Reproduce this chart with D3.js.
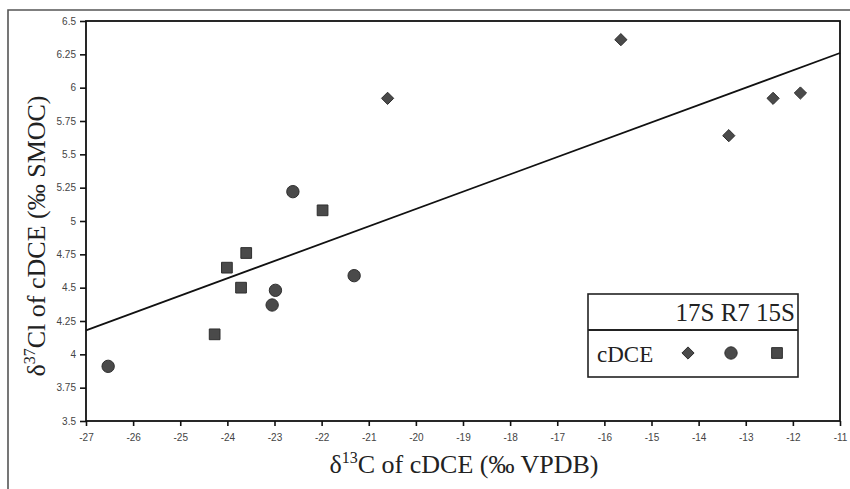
<!DOCTYPE html>
<html>
<head>
<meta charset="utf-8">
<script src="https://cdn.jsdelivr.net/npm/d3@7"></script>
<style>
  html, body { margin: 0; padding: 0; background: #fff; }
  svg { display: block; }
</style>
</head>
<body>
<svg id="chart" width="850" height="489"></svg>
<script>
// ---- data ----
const xTicks = [-27,-26,-25,-24,-23,-22,-21,-20,-19,-18,-17,-16,-15,-14,-13,-12,-11];
const yTicks = [3.5,3.75,4,4.25,4.5,4.75,5,5.25,5.5,5.75,6,6.25,6.5];
const yTickLabels = ["3.5","3.75","4","4.25","4.5","4.75","5","5.25","5.5","5.75","6","6.25","6.5"];

const s17S_x = [-20.6, -15.65, -13.36, -12.42, -11.84];
const s17S_y = [5.92, 6.36, 5.64, 5.92, 5.96];

const sR7_x = [-26.53, -23.05, -22.98, -22.61, -21.31];
const sR7_y = [3.91, 4.37, 4.48, 5.22, 4.59];

const s15S_x = [-24.27, -24.01, -23.71, -23.60, -21.98];
const s15S_y = [4.15, 4.65, 4.50, 4.76, 5.08];

const fitX = [-27, -11];
const fitY = [4.18, 6.26];

const legendNames = ["17S", "R7", "15S"];
const legendRowLabel = "cDCE";

(function () {
// ---- layout ----
const svg = d3.select("#chart");
const pLeft = 86, pRight = 840, pTop = 21, pBottom = 421;
const x = d3.scaleLinear().domain([-27, -11]).range([pLeft, pRight]);
const y = d3.scaleLinear().domain([3.5, 6.5]).range([pBottom, pTop]);

const markFill = "#4a4a4a", markStroke = "#2e2e2e";

// outer frame (left + top only visible)
svg.append("path")
  .attr("d", `M8,489 L8,10 L850,10`)
  .attr("fill", "none").attr("stroke", "#555").attr("stroke-width", 1.6);

// plot box
svg.append("rect")
  .attr("x", pLeft).attr("y", pTop)
  .attr("width", pRight - pLeft).attr("height", pBottom - pTop)
  .attr("fill", "none").attr("stroke", "#111").attr("stroke-width", 1.8);

// axes
const xAxis = d3.axisBottom(x).tickValues(xTicks).tickSize(5).tickPadding(8)
  .tickFormat(d => String(d));
const gx = svg.append("g").attr("transform", `translate(0,${pBottom})`).call(xAxis);
gx.select(".domain").remove();
gx.selectAll("line").attr("stroke", "#111").attr("stroke-width", 1.6);
gx.selectAll("text").attr("font-family", "Liberation Sans, Arial, sans-serif")
  .attr("font-size", 10).attr("fill", "#444");

const yAxis = d3.axisLeft(y).tickValues(yTicks).tickSize(6).tickPadding(4)
  .tickFormat((d, i) => yTickLabels[i]);
const gy = svg.append("g").attr("transform", `translate(${pLeft},0)`).call(yAxis);
gy.select(".domain").remove();
gy.selectAll("line").attr("stroke", "#111").attr("stroke-width", 1.6);
gy.selectAll("text").attr("font-family", "Liberation Sans, Arial, sans-serif")
  .attr("font-size", 10).attr("fill", "#444");

// fit line
const line = d3.line().x(d => x(d[0])).y(d => y(d[1]));
svg.append("path")
  .datum(d3.zip(fitX, fitY))
  .attr("d", line)
  .attr("fill", "none").attr("stroke", "#111").attr("stroke-width", 1.8);

// markers
const symDiamond = d3.symbol().type(d3.symbolDiamond2).size(95);
const symCircle = d3.symbol().type(d3.symbolCircle).size(120);
const symSquare = d3.symbol().type(d3.symbolSquare).size(115);

function drawSeries(xs, ys, sym) {
  svg.append("g").selectAll("path")
    .data(d3.zip(xs, ys)).join("path")
    .attr("transform", d => `translate(${x(d[0])},${y(d[1])})`)
    .attr("d", sym)
    .attr("fill", markFill).attr("stroke", markStroke).attr("stroke-width", 1);
}
drawSeries(s17S_x, s17S_y, symDiamond);
drawSeries(sR7_x, sR7_y, symCircle);
drawSeries(s15S_x, s15S_y, symSquare);

// legend
const lg = svg.append("g");
lg.append("rect").attr("x", 588).attr("y", 294).attr("width", 210).attr("height", 83)
  .attr("fill", "#fff").attr("stroke", "#222").attr("stroke-width", 1.6);
lg.append("line").attr("x1", 588).attr("x2", 798).attr("y1", 330).attr("y2", 330)
  .attr("stroke", "#222").attr("stroke-width", 1.8);
lg.append("text").attr("x", 795).attr("y", 321).attr("text-anchor", "end")
  .attr("font-family", "Liberation Serif, Times New Roman, serif").attr("font-size", 25)
  .attr("fill", "#222").text(legendNames.join(" "));
lg.append("text").attr("x", 597).attr("y", 362)
  .attr("font-family", "Liberation Serif, Times New Roman, serif").attr("font-size", 23)
  .attr("fill", "#222").text(legendRowLabel);
const legSyms = [symDiamond, symCircle, symSquare];
const legX = [688, 731, 777];
legSyms.forEach((s, i) => {
  lg.append("path").attr("transform", `translate(${legX[i]},353)`).attr("d", s)
    .attr("fill", markFill).attr("stroke", markStroke).attr("stroke-width", 1);
});

// axis titles
const xt = svg.append("text").attr("x", 464).attr("y", 473).attr("text-anchor", "middle")
  .attr("font-family", "Liberation Serif, Times New Roman, serif").attr("font-size", 26).attr("fill", "#222");
xt.append("tspan").text("δ");
xt.append("tspan").attr("font-size", 16).attr("dy", -10).text("13");
xt.append("tspan").attr("dy", 10).text("C of cDCE (‰ VPDB)");

const yt = svg.append("text").attr("transform", "translate(45,236) rotate(-90)").attr("text-anchor", "middle")
  .attr("font-family", "Liberation Serif, Times New Roman, serif").attr("font-size", 26).attr("fill", "#222");
yt.append("tspan").text("δ");
yt.append("tspan").attr("font-size", 16).attr("dy", -10).text("37");
yt.append("tspan").attr("dy", 10).text("Cl of cDCE (‰ SMOC)");
})();
</script>
</body>
</html>
